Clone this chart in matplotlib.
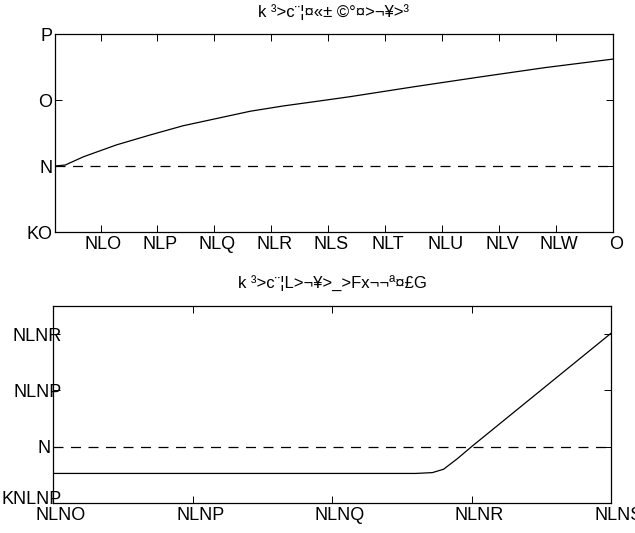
import numpy as np
import matplotlib
matplotlib.use("Agg")
import matplotlib.pyplot as plt
from matplotlib.transforms import ScaledTranslation

plt.rcParams['font.family'] = ['Liberation Sans', 'DejaVu Sans']

# upper panel
top_title = "k ³>c¨¦¤«± ©°¤>¬¥>³"
x1 = [0.02, 0.038, 0.070, 0.128, 0.187, 0.245, 0.304, 0.363, 0.421, 0.48,
      0.538, 0.65, 0.767, 0.88, 1.0]
y1 = [0.0, 0.015, 0.14, 0.32, 0.47, 0.61, 0.72, 0.83, 0.91, 0.98,
      1.05, 1.2, 1.35, 1.49, 1.62]
ref1_x = [0.02, 1.0]
ref1_y = [0.0, 0.0]
xt1 = [0.1, 0.2, 0.3, 0.4, 0.5, 0.6, 0.7, 0.8, 0.9, 1.0]
xl1 = ["NLO", "NLP", "NLQ", "NLR", "NLS", "NLT", "NLU", "NLV", "NLW", "O"]
yt1 = [-1, 0, 1, 2]
yl1 = ["KO", "N", "O", "P"]

# lower panel
bot_title = "k ³>c¨¦L>¬¥>_>Fx¬¬ª¤£G"
x2 = [0.01, 0.036, 0.0372, 0.038, 0.039, 0.04, 0.05]
y2 = [-0.0095, -0.0095, -0.0092, -0.0080, -0.0042, 0.0, 0.0403]
ref2_x = [0.01, 0.05]
ref2_y = [0.0, 0.0]
xt2 = [0.01, 0.02, 0.03, 0.04, 0.05]
xl2 = ["NLNO", "NLNP", "NLNQ", "NLNR", "NLNS"]
yt2 = [-0.02, 0.0, 0.02, 0.04]
yl2 = ["KNLNP", "N", "NLNP", "NLNR"]

fig = plt.figure(figsize=(6.35, 5.33), dpi=100)
ax1 = fig.add_axes([0.0866, 0.5647, 0.8787, 0.3715])
ax2 = fig.add_axes([0.0835, 0.0563, 0.8787, 0.3696])


def shift(lab, dx, dy=0):
    off = ScaledTranslation(dx / 100, dy / 100, fig.dpi_scale_trans)
    lab.set_transform(lab.get_transform() + off)


def style(ax, title, xt, xl, yt, yl, xshift):
    ax.set_title(title, fontsize=12, pad=12)
    ax.set_xticks(xt)
    ax.set_xticklabels(xl)
    ax.set_yticks(yt)
    ax.set_yticklabels(yl)
    ax.tick_params(direction='in', length=5, width=0.7, top=True, right=True,
                   labelsize=13, pad=3)
    ax.tick_params(axis='y', pad=2)
    for s in ax.spines.values():
        s.set_linewidth(0.9)
    for lab in ax.get_xticklabels():
        shift(lab, xshift)


ax1.plot(x1, y1, color='black', lw=0.9)
ax1.plot(ref1_x, ref1_y, color='black', lw=0.9, linestyle=(0, (8, 6)))
ax1.set_xlim(0.02, 1)
ax1.set_ylim(-1, 2)
style(ax1, top_title, xt1, xl1, yt1, yl1, 3)

ax2.plot(x2, y2, color='black', lw=0.9)
ax2.plot(ref2_x, ref2_y, color='black', lw=0.9, linestyle=(0, (8, 6)))
ax2.set_xlim(0.01, 0.05)
ax2.set_ylim(-0.02, 0.05)
style(ax2, bot_title, xt2, xl2, yt2, yl2, 8)

# the longer y labels of the lower panel run over the axis line
ylabs = ax2.get_yticklabels()
shift(ylabs[0], 12, 5)
shift(ylabs[2], 12)
shift(ylabs[3], 12)

fig.savefig("out.png", dpi=100)
